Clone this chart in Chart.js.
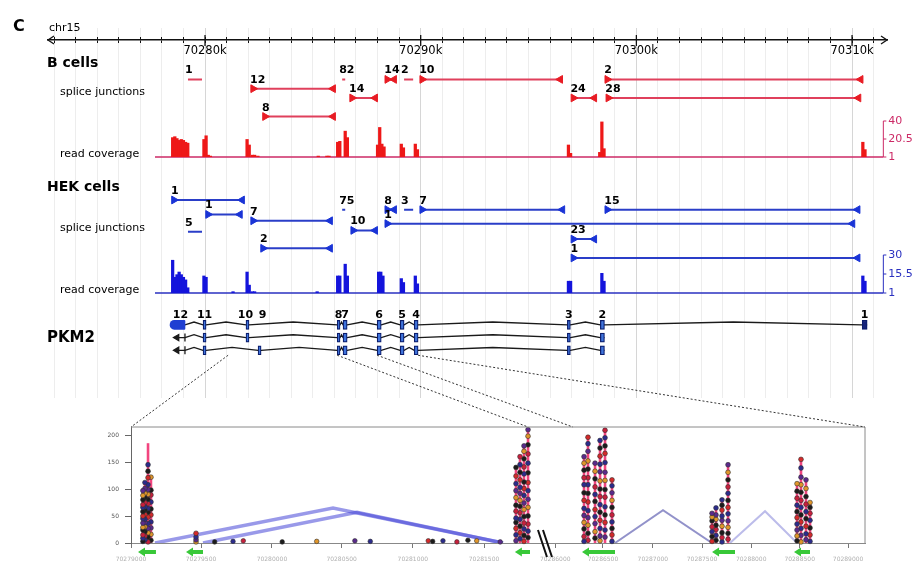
<!DOCTYPE html>
<html>
<head>
<meta charset="utf-8">
<title>PKM2 splice junctions</title>
<script src="https://cdn.jsdelivr.net/npm/chart.js@4.4.1/dist/chart.umd.min.js"></script>
<style>
  body { margin: 0; background: #fff; }
  #page { position: relative; width: 913px; height: 564px; overflow: hidden; font-family: "DejaVu Sans", sans-serif; }
  #page canvas { position: absolute; }
  .txt { position: absolute; white-space: nowrap; line-height: 1; color: #000; }
</style>
</head>
<body>
<div id="page">
  <canvas id="gridC" width="913" height="370" style="left:0;top:28px"></canvas>
  <canvas id="rulerC" width="913" height="35" style="left:0;top:30px"></canvas>
  <canvas id="bJuncC" width="913" height="70" style="left:0;top:60px"></canvas>
  <canvas id="bCovC" width="913" height="51" style="left:0;top:113px"></canvas>
  <canvas id="hJuncC" width="913" height="90" style="left:0;top:180px"></canvas>
  <canvas id="hCovC" width="913" height="53" style="left:0;top:247px"></canvas>
  <canvas id="geneC" width="913" height="70" style="left:0;top:300px"></canvas>
  <canvas id="panelC" width="780" height="214" style="left:95px;top:350px"></canvas>

  <div class="txt" style="left:13px;top:18px;font-size:16px;font-weight:bold">C</div>
  <div class="txt" style="left:49px;top:22px;font-size:11px">chr15</div>
  <div class="txt" style="left:47px;top:55px;font-size:14px;font-weight:bold">B cells</div>
  <div class="txt" style="left:60px;top:86px;font-size:11px">splice junctions</div>
  <div class="txt" style="left:60px;top:148px;font-size:11px">read coverage</div>
  <div class="txt" style="left:47px;top:179px;font-size:14px;font-weight:bold">HEK cells</div>
  <div class="txt" style="left:60px;top:222px;font-size:11px">splice junctions</div>
  <div class="txt" style="left:60px;top:284px;font-size:11px">read coverage</div>
  <div class="txt" style="left:47px;top:330px;font-size:15px;font-weight:bold">PKM2</div>
</div>
<script>
// genome window, kb on chr15
const X_MIN = 70272.72, X_MAX = 70311.62;
const rulerMajor = [70280, 70290, 70300, 70310];
const rulerLabels = ['70280k', '70290k', '70300k', '70310k'];

// B cells splice junctions
const bJuncLabel = ['1', '12', '8', '82', '14', '14', '2', '10', '2', '24', '28'];
const bJuncStart = [70279.21, 70282.23, 70282.78, 70286.36, 70286.82, 70288.45, 70289.23, 70290.07, 70298.65, 70297.08, 70298.70];
const bJuncEnd   = [70279.86, 70285.94, 70285.94, 70286.50, 70287.89, 70288.77, 70289.65, 70296.47, 70310.40, 70298.05, 70310.30];
const bJuncRow   = [0, 1, 4, 0, 2, 0, 0, 0, 0, 2, 2];
const bJuncArrow = [0, 1, 1, 0, 1, 1, 0, 1, 1, 1, 1];

// B cells read coverage
const bCovPos = [70278.50, 70278.60, 70278.70, 70278.80, 70278.90, 70279.00, 70279.10, 70279.20,
  70279.95, 70280.05, 70280.15, 70280.25, 70281.95, 70282.05, 70282.20, 70282.30, 70282.45,
  70285.25, 70285.65, 70285.75, 70286.15, 70286.25, 70286.50, 70286.60,
  70288.00, 70288.10, 70288.20, 70288.30, 70289.10, 70289.20, 70289.75, 70289.85,
  70296.85, 70296.95, 70298.30, 70298.40, 70298.50, 70310.50, 70310.60];
const bCovVal = [22, 23, 21, 19, 20, 19, 17, 16,
  20, 24, 3, 2, 20, 14, 3, 3, 2,
  2, 2, 2, 17, 18, 29, 22,
  14, 33, 15, 12, 15, 11, 15, 9,
  14, 5, 6, 39, 10, 17, 9];
const bCovTicks = [1, 20.5, 40];
const bCovTickLabels = ['1', '20.5', '40'];

// HEK cells splice junctions
const hJuncLabel = ['1', '1', '7', '5', '2', '75', '10', '8', '3', '7', '1', '15', '23', '1'];
const hJuncStart = [70278.56, 70280.14, 70282.23, 70279.21, 70282.69, 70286.36, 70286.87, 70288.45, 70289.23, 70290.07, 70288.45, 70298.65, 70297.08, 70297.08];
const hJuncEnd   = [70281.72, 70281.62, 70285.80, 70279.86, 70285.80, 70286.50, 70287.89, 70288.77, 70289.65, 70296.57, 70310.02, 70310.26, 70298.05, 70310.26];
const hJuncRow   = [0, 1.5, 2.15, 3.3, 5, 1, 3.15, 1, 1, 1, 2.45, 1, 4.05, 6];
const hJuncArrow = [1, 1, 1, 0, 1, 0, 1, 1, 0, 1, 1, 1, 1, 1];

// HEK cells read coverage
const hCovPos = [70278.50, 70278.60, 70278.70, 70278.80, 70278.90, 70279.00, 70279.10, 70279.20,
  70279.95, 70280.05, 70281.30, 70281.95, 70282.05, 70282.20, 70282.30, 70285.20,
  70286.15, 70286.25, 70286.50, 70286.60, 70288.05, 70288.15, 70288.25,
  70289.10, 70289.20, 70289.75, 70289.85, 70296.85, 70296.95, 70298.40, 70298.50, 70310.50, 70310.60];
const hCovVal = [26, 13, 15, 17, 15, 13, 11, 5,
  14, 13, 2, 17, 7, 2, 2, 2,
  14, 14, 23, 14, 17, 17, 14,
  12, 9, 14, 8, 10, 10, 16, 10, 14, 10];
const hCovTicks = [1, 15.5, 30];
const hCovTickLabels = ['1', '15.5', '30'];

const covTrackStart = 70277.68;
const covAxisAt = 70311.45;

// PKM2 gene model
const exonName  = ['12', '11', '10', '9', '8', '7', '6', '5', '4', '3', '2', '1'];
const exonStart = [70278.38, 70279.91, 70281.90, 70282.46, 70286.13, 70286.40, 70287.98, 70289.05, 70289.70, 70296.80, 70298.33, 70310.47];
const exonEnd   = [70279.07, 70280.05, 70282.04, 70282.60, 70286.26, 70286.59, 70288.17, 70289.23, 70289.88, 70296.94, 70298.52, 70310.70];
const transcripts = [
  ['12', '11', '10', '8', '7', '6', '5', '4', '3', '2', '1'],
  ['12', '11', '10', '8', '7', '6', '5', '4', '3', '2'],
  ['12', '11', '9', '8', '7', '6', '5', '4', '3', '2'],
];
const tailStart = 70278.70;

// zoomed panel (relative position along the zoomed region, 0-100)
const panelXTicks = [0, 9.54, 19.2, 28.7, 38.4, 48.1, 57.8, 64.3, 71.1, 77.8, 84.5, 91.1, 97.7];
const panelXLabels = ['70279000', '70279500', '70280000', '70280500', '70281000', '70281500',
  '70286000', '70286500', '70287000', '70287500', '70288000', '70288500', '70289000'];
const panelYTicks = [0, 50, 100, 150, 200];

const colX = [1.62, 1.9, 2.32, 2.72, 8.86, 52.45, 53.0, 53.54, 54.09, 61.72, 62.26, 63.22, 63.9, 64.58, 65.53,
  79.16, 79.7, 80.52, 81.34, 90.74, 91.28, 91.96, 92.51];
const colTop = [100, 112, 185, 122, 18, 140, 160, 180, 210, 160, 196, 148, 190, 209, 117,
  55, 65, 80, 145, 110, 155, 117, 75];
const colDots = [
  [3, 9, 15, 24, 29, 37, 45, 50, 58, 66, 71, 80, 88, 97],
  [6, 13, 21, 30, 38, 44, 53, 61, 67, 75, 84, 92, 101, 112],
  [2, 11, 19, 27, 36, 48, 57, 64, 73, 81, 90, 99, 108, 121, 133, 145],
  [5, 16, 28, 39, 52, 63, 76, 89, 98, 122],
  [2, 6, 11, 18],
  [4, 15, 27, 38, 46, 59, 70, 84, 97, 110, 124, 140],
  [8, 19, 31, 44, 56, 68, 79, 92, 103, 117, 131, 145, 160],
  [3, 14, 26, 37, 49, 62, 74, 88, 101, 113, 128, 141, 156, 170, 180],
  [10, 22, 35, 50, 66, 81, 97, 112, 130, 148, 165, 182, 198, 210],
  [3, 12, 26, 38, 51, 64, 79, 93, 108, 121, 135, 148, 160],
  [5, 18, 33, 47, 60, 76, 92, 108, 121, 137, 152, 170, 184, 196],
  [9, 21, 36, 49, 62, 77, 90, 104, 119, 133, 148],
  [4, 13, 27, 42, 57, 71, 86, 100, 115, 132, 146, 161, 176, 190],
  [11, 24, 38, 52, 67, 85, 99, 116, 131, 149, 166, 180, 195, 209],
  [3, 15, 27, 39, 52, 66, 79, 93, 106, 117],
  [3, 12, 21, 30, 41, 48, 55],
  [5, 14, 25, 33, 44, 52, 65],
  [2, 10, 19, 31, 42, 50, 61, 70, 80],
  [7, 18, 29, 41, 54, 66, 79, 92, 104, 117, 131, 145],
  [4, 13, 24, 35, 47, 58, 70, 83, 96, 110],
  [2, 14, 27, 39, 52, 66, 79, 94, 108, 122, 139, 155],
  [6, 17, 31, 45, 58, 72, 86, 101, 117],
  [3, 15, 28, 42, 55, 66, 75],
];
const lowX = [11.4, 13.9, 15.3, 20.6, 25.3, 30.5, 32.6, 40.5, 41.1, 42.5, 44.4, 45.9, 47.1, 50.3];
const lowY = [2, 3, 4, 2, 3, 4, 3, 4, 3, 4, 2, 5, 4, 2];

const arcStart = [3.27, 9.81, 65.94, 81.61];
const arcPeakX = [27.52, 30.79, 72.48, 86.38];
const arcPeak  = [65, 57, 61, 59];
const arcEnd   = [50.68, 50.68, 79.16, 90.74];
const arcColor = ['rgba(70,70,215,0.55)', 'rgba(70,70,215,0.55)', 'rgba(100,100,180,0.7)', 'rgba(160,160,225,0.7)'];

const exonMarkStart = [0.95, 7.49, 52.3, 61.44, 79.16, 90.33];
const exonMarkEnd   = [3.4, 9.81, 54.36, 65.94, 82.29, 92.51];
const breakAt = 56.4;

const zoomFromKb = [70281.07, 70286.13, 70287.98, 70289.88];
const zoomToPos  = [0, 54.1, 60.2, 100];

const dotPalette = ['#1b1b1b', '#2b2b8c', '#c8203c', '#1b1b1b', '#e0962a', '#5a2a8c', '#2b2b8c', '#d42a2a'];

// ---------- common ----------
const FONT = '"DejaVu Sans", sans-serif';
Chart.defaults.font.family = FONT;
const PAD_L = 48, PAD_R = 26;
const GENE_TOP = 300, PANEL_TOP = 350, PANEL_LEFT = 95;

const kbTicks = [];
for (let k = Math.ceil(X_MIN); k <= X_MAX; k++) kbTicks.push(k);

function baseOptions(padTop, padBottom, yOpts, xOpts) {
  return {
    responsive: false, animation: false, devicePixelRatio: 1, events: [],
    layout: { padding: { left: PAD_L, right: PAD_R, top: padTop, bottom: padBottom } },
    plugins: { legend: { display: false }, tooltip: { enabled: false } },
    scales: {
      x: Object.assign({ type: 'linear', min: X_MIN, max: X_MAX, offset: false, display: false }, xOpts || {}),
      y: Object.assign({ type: 'linear', display: false, offset: false, beginAtZero: false }, yOpts),
    },
  };
}

// ---------- background grid ----------
new Chart(document.getElementById('gridC'), {
  type: 'scatter',
  data: { datasets: [] },
  options: baseOptions(0, 0, { min: 0, max: 1 }, {
    display: true,
    afterBuildTicks: s => { s.ticks = kbTicks.map(v => ({ value: v })); },
    afterFit: s => { s.height = 0; },
    border: { display: false },
    ticks: { display: false },
    grid: { drawTicks: false, lineWidth: 1, color: c => (c.tick && c.tick.value % 10 === 0) ? '#d6d6d6' : '#ededed' },
  }),
});

// ---------- ruler ----------
const rulerDeco = {
  id: 'rulerDeco',
  afterDraw(chart) {
    const { ctx, chartArea: a, scales: { x } } = chart;
    const y = a.bottom;
    ctx.save();
    ctx.strokeStyle = '#111';
    ctx.lineWidth = 1.3;
    ctx.beginPath();
    ctx.moveTo(a.left + 6, y - 4); ctx.lineTo(a.left, y); ctx.lineTo(a.left + 6, y + 4);
    ctx.moveTo(a.right - 6, y - 4); ctx.lineTo(a.right, y); ctx.lineTo(a.right - 6, y + 4);
    rulerMajor.forEach(v => {
      const px = x.getPixelForValue(v);
      ctx.moveTo(px, y - 5); ctx.lineTo(px, y + 6);
    });
    ctx.stroke();
    ctx.restore();
  },
};
new Chart(document.getElementById('rulerC'), {
  type: 'scatter',
  data: { datasets: [] },
  options: baseOptions(7, 0, { min: 0, max: 1 }, {
    display: true,
    afterBuildTicks: s => { s.ticks = kbTicks.map(v => ({ value: v })); },
    afterFit: s => { s.height = 25; },
    border: { display: true, color: '#111', width: 1.5 },
    grid: { color: '#111', lineWidth: 1, tickLength: 3, drawOnChartArea: true },
    ticks: {
      autoSkip: false, maxRotation: 0, padding: 1, color: '#000', font: { size: 11.5 },
      callback: v => { const i = rulerMajor.indexOf(v); return i >= 0 ? rulerLabels[i] : ''; },
    },
  }),
  plugins: [rulerDeco],
});

// ---------- splice junction tracks ----------
function junctionChart(id, starts, ends, rows, labels, arrows, yMin, yMax, lineColor, arrowColor) {
  const datasets = starts.map((s, i) => ({
    type: 'line',
    data: [{ x: s, y: rows[i] }, { x: ends[i], y: rows[i] }],
    borderColor: lineColor,
    borderWidth: 2,
    pointStyle: 'triangle',
    pointRotation: [90, -90],
    pointRadius: arrows[i] ? 4.5 : 0,
    pointBackgroundColor: arrowColor,
    pointBorderColor: arrowColor,
    pointBorderWidth: 1,
  }));
  const juncLabels = {
    id: 'juncLabels',
    afterDatasetsDraw(chart) {
      const ctx = chart.ctx;
      ctx.save();
      ctx.fillStyle = '#000';
      ctx.font = 'bold 11px ' + FONT;
      ctx.textAlign = 'left';
      ctx.textBaseline = 'alphabetic';
      labels.forEach((t, i) => {
        const p = chart.getDatasetMeta(i).data[0];
        ctx.fillText(t, p.x - 3, p.y - 6);
      });
      ctx.restore();
    },
  };
  return new Chart(document.getElementById(id), {
    type: 'scatter',
    data: { datasets },
    options: baseOptions(0, 0, { min: yMin, max: yMax, reverse: true }),
    plugins: [juncLabels],
  });
}

// ---------- coverage tracks ----------
function coverageChart(id, pos, vals, yMax, tickVals, tickLabels, fillColor, axisColor, padTop, padBottom) {
  const covAxis = {
    id: 'covAxis',
    beforeDatasetsDraw(chart) {
      const { ctx, scales: { x, y } } = chart;
      const yb = y.getPixelForValue(tickVals[0]);
      ctx.save();
      ctx.strokeStyle = axisColor;
      ctx.lineWidth = 1.5;
      ctx.beginPath();
      ctx.moveTo(x.getPixelForValue(covTrackStart), yb);
      ctx.lineTo(x.getPixelForValue(covAxisAt), yb);
      ctx.stroke();
      ctx.restore();
    },
    afterDraw(chart) {
      const { ctx, scales: { x, y } } = chart;
      const bx = x.getPixelForValue(covAxisAt);
      ctx.save();
      ctx.strokeStyle = axisColor;
      ctx.fillStyle = axisColor;
      ctx.lineWidth = 1;
      ctx.beginPath();
      ctx.moveTo(bx, y.getPixelForValue(tickVals[0]));
      ctx.lineTo(bx, y.getPixelForValue(tickVals[tickVals.length - 1]));
      tickVals.forEach(v => { const py = y.getPixelForValue(v); ctx.moveTo(bx, py); ctx.lineTo(bx + 3, py); });
      ctx.stroke();
      ctx.font = '11px ' + FONT;
      ctx.textAlign = 'left';
      ctx.textBaseline = 'middle';
      tickVals.forEach((v, i) => ctx.fillText(tickLabels[i], bx + 5, y.getPixelForValue(v)));
      ctx.restore();
    },
  };
  return new Chart(document.getElementById(id), {
    type: 'scatter',
    data: {
      datasets: [{
        type: 'bar',
        data: pos.map((p, i) => ({ x: p, y: vals[i] })),
        backgroundColor: fillColor,
        borderWidth: 0,
        barThickness: 2.6,
        base: 1,
        grouped: false,
      }],
    },
    options: baseOptions(padTop, padBottom, { min: 1, max: yMax }),
    plugins: [covAxis],
  });
}

junctionChart('bJuncC', bJuncStart, bJuncEnd, bJuncRow, bJuncLabel, bJuncArrow, -1.5, 4.86, '#e0405c', '#e81c24');
coverageChart('bCovC', bCovPos, bCovVal, 40, bCovTicks, bCovTickLabels, '#ee1818', '#cc2a66', 8, 7);
junctionChart('hJuncC', hJuncStart, hJuncEnd, hJuncRow, hJuncLabel, hJuncArrow, -1.5, 6.68, '#2a3ec8', '#1a34d6');
coverageChart('hCovC', hCovPos, hCovVal, 30, hCovTicks, hCovTickLabels, '#1414dc', '#2a30c0', 8, 7);

// ---------- gene model ----------
const exIdx = n => exonName.indexOf(n);
const geneSets = [];
transcripts.forEach((tr, row) => {
  const path = [];
  tr.forEach((n, k) => {
    const i = exIdx(n);
    if (k > 0) {
      const p = exIdx(tr[k - 1]);
      path.push({ x: (exonEnd[p] + exonStart[i]) / 2, y: row - 0.22 });
    }
    path.push({ x: exonStart[i], y: row }, { x: exonEnd[i], y: row });
  });
  path.shift(); // intron line starts at the end of the first exon
  geneSets.push({ type: 'line', data: path, borderColor: '#1a1a1a', borderWidth: 1.3, pointRadius: 0, order: 2 });

  const boxes = tr.filter(n => n !== '12').map(n => ({ x: [exonStart[exIdx(n)], exonEnd[exIdx(n)]], y: row, name: n }));
  geneSets.push({
    type: 'bar', indexAxis: 'y', data: boxes, grouped: false, barThickness: 9,
    backgroundColor: c => (c.raw && c.raw.name === '1') ? '#16237a' : '#3f74dc',
    borderColor: '#0b1c6b', borderWidth: 1.2, borderSkipped: false, order: 0,
  });

  const i12 = exIdx('12');
  if (row === 0) {
    geneSets.push({
      type: 'bar', indexAxis: 'y', data: [{ x: [exonStart[i12], exonEnd[i12]], y: row }], grouped: false,
      barThickness: 9, backgroundColor: '#1f3fd2', borderWidth: 0,
      borderRadius: { topLeft: 6, bottomLeft: 6, topRight: 1, bottomRight: 1 }, borderSkipped: false, order: 0,
    });
  } else {
    geneSets.push({
      type: 'line', data: [{ x: tailStart, y: row }, { x: exonEnd[i12], y: row }],
      borderColor: '#1a1a1a', borderWidth: 1.3, order: 1,
      pointStyle: ['triangle', 'line'], pointRotation: [-90, 90], pointRadius: [3.5, 4],
      pointBackgroundColor: '#1a1a1a', pointBorderColor: '#1a1a1a', pointBorderWidth: 1.3,
    });
  }
});
const exonLabelNudge = { '12': 3, '10': -2, '9': 3 };
const exonLabels = {
  id: 'exonLabels',
  afterDraw(chart) {
    const { ctx, scales: { x, y } } = chart;
    ctx.save();
    ctx.fillStyle = '#000';
    ctx.font = 'bold 11px ' + FONT;
    ctx.textAlign = 'center';
    ctx.textBaseline = 'middle';
    exonName.forEach((n, i) => ctx.fillText(n, x.getPixelForValue((exonStart[i] + exonEnd[i]) / 2) + (exonLabelNudge[n] || 0), y.getPixelForValue(0) - 10));
    ctx.restore();
  },
};
const geneChart = new Chart(document.getElementById('geneC'), {
  type: 'scatter',
  data: { datasets: geneSets },
  options: baseOptions(0, 0, { min: -1.533, max: 3.133, reverse: true }),
  plugins: [exonLabels],
});

// ---------- zoomed coverage panel ----------
const panelSets = [];
arcStart.forEach((s, i) => panelSets.push({
  type: 'line', data: [{ x: s, y: 0 }, { x: arcPeakX[i], y: arcPeak[i] }, { x: arcEnd[i], y: 0 }],
  borderColor: arcColor[i], borderWidth: i < 2 ? 3.5 : 2, pointRadius: 0, order: 3,
}));
colX.forEach((cx, i) => {
  panelSets.push({
    type: 'line', data: [{ x: cx, y: 0 }, { x: cx, y: colTop[i] }],
    borderColor: '#f2457f', borderWidth: 2.6, pointRadius: 0, order: 2,
  });
  panelSets.push({
    type: 'line', showLine: false, data: colDots[i].map(v => ({ x: cx, y: v })), clip: false,
    pointRadius: 2.4, pointBorderWidth: 0.6, pointBorderColor: '#333',
    pointBackgroundColor: colDots[i].map((v, k) => dotPalette[(k + i) % dotPalette.length]), order: 1,
  });
});
panelSets.push({
  type: 'line', showLine: false, data: lowX.map((v, i) => ({ x: v, y: lowY[i] })), clip: false,
  pointRadius: 2.3, pointBorderWidth: 0.6, pointBorderColor: '#333',
  pointBackgroundColor: lowX.map((v, k) => dotPalette[k % dotPalette.length]), order: 1,
});

const panelDeco = {
  id: 'panelDeco',
  afterDraw(chart) {
    const { ctx, chartArea: a, scales: { x } } = chart;
    ctx.save();
    // frame
    ctx.strokeStyle = '#8a8a8a';
    ctx.lineWidth = 1;
    ctx.beginPath();
    ctx.moveTo(a.left, a.top); ctx.lineTo(a.right, a.top); ctx.lineTo(a.right, a.bottom);
    ctx.stroke();
    // axis break
    const bx = x.getPixelForValue(breakAt);
    ctx.strokeStyle = '#111';
    ctx.lineWidth = 2;
    ctx.beginPath();
    ctx.moveTo(bx - 7, a.bottom - 13); ctx.lineTo(bx + 2, a.bottom + 14);
    ctx.moveTo(bx - 2, a.bottom - 13); ctx.lineTo(bx + 7, a.bottom + 14);
    ctx.stroke();
    // exon arrows
    const gy = a.bottom + 9;
    ctx.strokeStyle = '#38c838';
    ctx.fillStyle = '#38c838';
    exonMarkStart.forEach((s, i) => {
      const x0 = x.getPixelForValue(s), x1 = x.getPixelForValue(exonMarkEnd[i]);
      ctx.lineWidth = 4;
      ctx.beginPath(); ctx.moveTo(x0 + 5, gy); ctx.lineTo(x1, gy); ctx.stroke();
      ctx.beginPath(); ctx.moveTo(x0, gy); ctx.lineTo(x0 + 7, gy - 4.5); ctx.lineTo(x0 + 7, gy + 4.5); ctx.closePath(); ctx.fill();
    });
    // dashed lines from the gene model
    const gx = geneChart.scales.x, gyScale = geneChart.scales.y;
    const sy = gyScale.getPixelForValue(2) + 5 + GENE_TOP - PANEL_TOP;
    ctx.strokeStyle = '#333';
    ctx.lineWidth = 1;
    ctx.setLineDash([2, 2]);
    ctx.beginPath();
    zoomFromKb.forEach((kb, i) => {
      ctx.moveTo(gx.getPixelForValue(kb) - PANEL_LEFT, sy);
      ctx.lineTo(x.getPixelForValue(zoomToPos[i]), a.top);
    });
    ctx.stroke();
    ctx.restore();
  },
};

new Chart(document.getElementById('panelC'), {
  type: 'scatter',
  data: { datasets: panelSets },
  options: {
    responsive: false, animation: false, devicePixelRatio: 1, events: [],
    layout: { padding: { left: 0, right: 10, top: 77, bottom: 0 } },
    plugins: { legend: { display: false }, tooltip: { enabled: false } },
    scales: {
      x: {
        type: 'linear', min: 0, max: 100, offset: false,
        afterBuildTicks: s => { s.ticks = panelXTicks.map(v => ({ value: v })); },
        afterFit: s => { s.height = 21; },
        border: { color: '#888' },
        grid: { drawOnChartArea: false, tickLength: 5, color: '#777' },
        ticks: { autoSkip: false, maxRotation: 0, padding: 8, color: '#b0b0b0', font: { size: 6 }, callback: (v, i) => panelXLabels[i] },
      },
      y: {
        type: 'linear', min: 0, max: 215, offset: false,
        afterBuildTicks: s => { s.ticks = panelYTicks.map(v => ({ value: v })); },
        afterFit: s => { s.width = 36; },
        border: { color: '#666' },
        grid: { drawOnChartArea: false, tickLength: 6, color: '#666' },
        ticks: { padding: 6, color: '#555', font: { size: 6 } },
      },
    },
  },
  plugins: [panelDeco],
});
</script>
</body>
</html>
